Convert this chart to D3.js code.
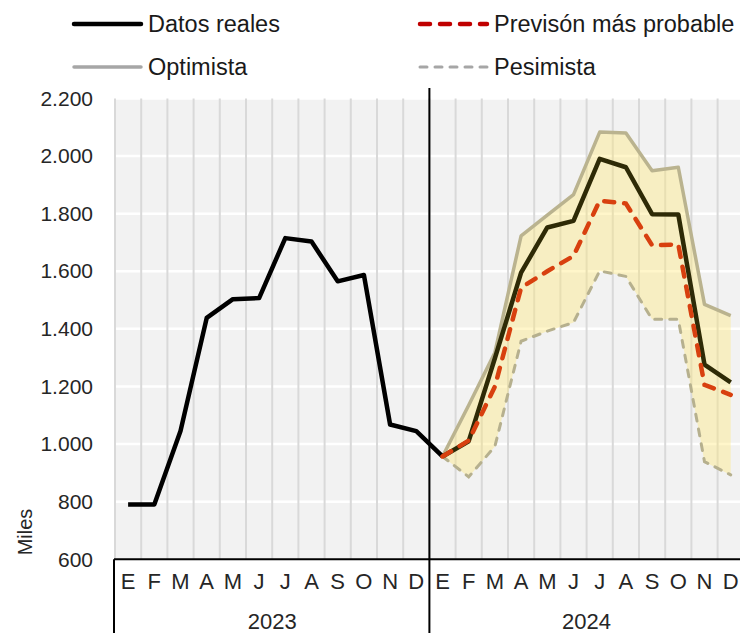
<!DOCTYPE html>
<html>
<head>
<meta charset="utf-8">
<script src="https://cdn.jsdelivr.net/npm/d3@7/dist/d3.min.js"></script>
<style>
  html, body { margin: 0; padding: 0; background: #ffffff; }
  svg { display: block; font-family: "Liberation Sans", Arial, sans-serif; }
</style>
</head>
<body>
<svg id="chart" width="740" height="633"></svg>
<script>
// ---- data ----
const months = ["E","F","M","A","M","J","J","A","S","O","N","D"];
const years = ["2023","2024"];
const yTicks = [600,800,1000,1200,1400,1600,1800,2000,2200];
// Datos reales, Jan 2023 .. Dec 2024
const datosReales = [790,790,1045,1438,1503,1507,1715,1703,1565,1587,1068,1045,
                     957,1010,1298,1595,1752,1775,1990,1961,1798,1797,1276,1214];
// Forecast series, Jan 2024 .. Dec 2024
const prevision = [957,1012,1200,1543,1600,1653,1845,1835,1690,1693,1206,1171];
const optimista = [957,1135,1318,1723,1795,1866,2083,2080,1949,1961,1485,1446];
const pesimista = [957,886,992,1357,1392,1422,1601,1582,1433,1433,939,893];
const legendItems = ["Datos reales","Previsón más probable","Optimista","Pesimista"];

// ---- layout ----
const svg = d3.select("#chart");
const plotLeft = 115, bandW = 26.2, plotTop = 98.4, plotBottom = 559.3;
const keys = [];
years.forEach(yr => months.forEach((m, i) => keys.push(yr + "-" + i)));
const x = d3.scaleBand().domain(keys).range([plotLeft, plotLeft + keys.length * bandW]).padding(0);
const y = d3.scaleLinear().domain([600, 2200]).range([plotBottom, plotTop]);
const cx = k => x(k) + x.bandwidth() / 2;
const keys24 = keys.slice(12);

// plot background
svg.append("rect").attr("x", plotLeft).attr("y", y(2200)).attr("width", x.range()[1] - plotLeft)
  .attr("height", y(600) - y(2200)).attr("fill", "#f2f2f2");

// horizontal gridlines (white)
svg.append("g").selectAll("line").data(yTicks.filter(v => v > 600)).join("line")
  .attr("x1", plotLeft).attr("x2", x.range()[1]).attr("y1", d => y(d)).attr("y2", d => y(d))
  .attr("stroke", "#ffffff").attr("stroke-width", 2.5);

// vertical gridlines
const bounds = keys.map(k => x(k)).concat([x.range()[1]]);
svg.append("g").selectAll("line").data(bounds).join("line")
  .attr("x1", d => d).attr("x2", d => d).attr("y1", y(2200)).attr("y2", y(600))
  .attr("stroke", "#d9d9d9").attr("stroke-width", 2);

// y axis labels
const yAxis = d3.axisLeft(y).tickValues(yTicks).tickSize(0).tickPadding(0)
  .tickFormat(d => d3.format(",")(d).replace(/,/g, "."));
const gy = svg.append("g").attr("transform", "translate(93,0)").call(yAxis);
gy.select(".domain").remove();
gy.selectAll("text").attr("font-size", 21).attr("fill", "#262626")
  .attr("font-family", "Liberation Sans, Arial, sans-serif");

svg.append("text").attr("transform", "translate(32,532) rotate(-90)")
  .attr("text-anchor", "middle").attr("font-size", 20).attr("fill", "#262626").text("Miles");

// ---- scenario band (translucent pale yellow) ----
const area = d3.area().x((d, i) => cx(keys24[i])).y0((d, i) => y(pesimista[i])).y1(d => y(d));
svg.append("path").datum(optimista).attr("d", area)
  .attr("fill", "#ffe87a").attr("fill-opacity", 0.4);

// ---- series (tinted where they sit inside the band) ----
const lineAll = d3.line().x((d, i) => cx(keys[i])).y(d => y(d));
const line24 = d3.line().x((d, i) => cx(keys24[i])).y(d => y(d));

svg.append("path").datum(optimista).attr("d", line24).attr("fill", "none")
  .attr("stroke", "#bab38f").attr("stroke-width", 3.5).attr("stroke-linejoin", "round");
svg.append("path").datum(pesimista).attr("d", line24).attr("fill", "none")
  .attr("stroke", "#b6b08e").attr("stroke-width", 3).attr("stroke-dasharray", "7,8")
  .attr("stroke-linecap", "round");
// 2023 part (and link to Jan 2024) in black
svg.append("path").datum(datosReales.slice(0, 13)).attr("d", lineAll).attr("fill", "none")
  .attr("stroke", "#000000").attr("stroke-width", 4.5).attr("stroke-linejoin", "round");
// 2024 part inside the band
svg.append("path").datum(datosReales.slice(12)).attr("d", line24).attr("fill", "none")
  .attr("stroke", "#2e2a06").attr("stroke-width", 4.5).attr("stroke-linejoin", "round");
svg.append("path").datum(prevision).attr("d", line24).attr("fill", "none")
  .attr("stroke", "#d8400f").attr("stroke-width", 4.5).attr("stroke-dasharray", "10,10")
  .attr("stroke-linecap", "round");

// ---- category axis ----
const axisCol = "#000000";
svg.append("line").attr("x1", plotLeft - 1).attr("x2", 740).attr("y1", y(600)).attr("y2", y(600))
  .attr("stroke", axisCol).attr("stroke-width", 2);
svg.append("line").attr("x1", plotLeft - 1).attr("x2", plotLeft - 1).attr("y1", y(600)).attr("y2", 633)
  .attr("stroke", axisCol).attr("stroke-width", 2);
svg.append("line").attr("x1", x(keys[12])).attr("x2", x(keys[12])).attr("y1", 88).attr("y2", 633)
  .attr("stroke", axisCol).attr("stroke-width", 2);

svg.append("g").selectAll("text").data(keys).join("text")
  .attr("x", d => cx(d)).attr("y", 581.5).attr("dy", "0.36em")
  .attr("text-anchor", "middle").attr("font-size", 22).attr("fill", "#262626")
  .text(d => months[+d.split("-")[1]]);

svg.append("g").selectAll("text").data(years).join("text")
  .attr("x", (d, i) => (x(keys[i * 12]) + x(keys[i * 12 + 11]) + bandW) / 2)
  .attr("y", 621).attr("dy", "0.36em")
  .attr("text-anchor", "middle").attr("font-size", 22).attr("fill", "#262626")
  .text(d => d);

// ---- legend ----
const leg = [
  {name: legendItems[0], x: 72, y: 24, color: "#000000", w: 4.5, dash: null, cap: "round"},
  {name: legendItems[1], x: 418, y: 24, color: "#c00000", w: 4.5, dash: "10,10", cap: "round"},
  {name: legendItems[2], x: 72, y: 67, color: "#a6a6a6", w: 3.5, dash: null, cap: "round"},
  {name: legendItems[3], x: 418, y: 67, color: "#a6a6a6", w: 3, dash: "7,8", cap: "round"}
];
const lg = svg.append("g").selectAll("g").data(leg).join("g");
lg.append("line").attr("x1", d => d.x + 2).attr("x2", d => d.x + 69)
  .attr("y1", d => d.y).attr("y2", d => d.y)
  .attr("stroke", d => d.color).attr("stroke-width", d => d.w)
  .attr("stroke-dasharray", d => d.dash).attr("stroke-linecap", d => d.cap);
lg.append("text").attr("x", d => d.x + 76).attr("y", d => d.y).attr("dy", "0.36em")
  .attr("font-size", 23.5).attr("fill", "#1a1a1a").text(d => d.name);
</script>
</body>
</html>
